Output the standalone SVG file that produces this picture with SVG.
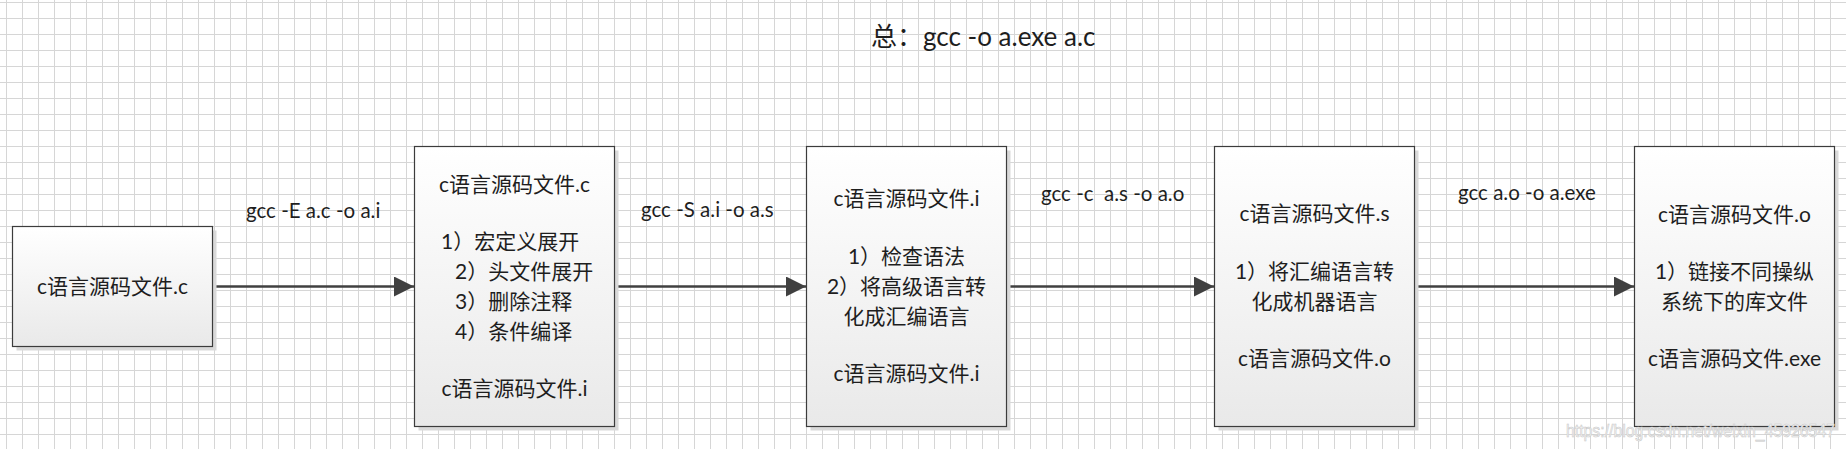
<svg xmlns="http://www.w3.org/2000/svg" width="1846" height="449" viewBox="0 0 1846 449">
<style>
text{font-family:Lato,"Noto Sans CJK SC",sans-serif;fill:#1e1e1e}
.t{font-size:21px;text-anchor:middle}
.ts{font-size:21px}
.lbl{font-size:20.5px}
.box{fill:url(#g);stroke:#3c3c3c;stroke-width:1.2}
.sh{fill:#d9d9d9}
.conn{stroke:#404040;stroke-width:2.6;fill:none;marker-end:url(#ah)}
</style>
<defs>
<pattern id="grid" x="6" y="2" width="16" height="16" patternUnits="userSpaceOnUse">
<path d="M0.5 0V16M0 0.5H16" stroke="#d6d6d6" stroke-width="1" fill="none"/>
</pattern>
<linearGradient id="g" x1="0" y1="0" x2="0" y2="1">
<stop offset="0" stop-color="#ffffff"/>
<stop offset="1" stop-color="#e9e9e9"/>
</linearGradient>
<marker id="ah" markerUnits="userSpaceOnUse" markerWidth="20" markerHeight="20" refX="20" refY="10" orient="auto">
<path d="M0 0L20 10L0 20z" fill="#404040"/>
</marker>
</defs>
<rect width="1846" height="449" fill="#ffffff"/>
<rect width="1846" height="449" fill="url(#grid)"/>

<text id="title" x="871" y="46" style="font-size:26px">总：gcc -o a.exe a.c</text>

<g id="connectors">
<line class="conn" x1="213" y1="286.5" x2="414" y2="286.5"/>
<line class="conn" x1="615" y1="286.5" x2="806" y2="286.5"/>
<line class="conn" x1="1007" y1="286.5" x2="1214" y2="286.5"/>
<line class="conn" x1="1415" y1="286.5" x2="1634" y2="286.5"/>
<text class="lbl" x="246" y="218">gcc -E a.c -o a.i</text>
<text class="lbl" x="641" y="217">gcc -S a.i -o a.s</text>
<text class="lbl" x="1041" y="201">gcc -c&#160; a.s -o a.o</text>
<text class="lbl" x="1458" y="200">gcc a.o -o a.exe</text>
</g>

<g id="node1">
<rect class="sh" x="16.5" y="230.5" width="200" height="120"/>
<rect class="box" x="12.5" y="226.5" width="200" height="120"/>
<text class="t" x="112.5" y="294">c语言源码文件.c</text>
</g>

<g id="node2">
<rect class="sh" x="418.5" y="150.5" width="200" height="280"/>
<rect class="box" x="414.5" y="146.5" width="200" height="280"/>
<text class="t" x="514.5" y="192">c语言源码文件.c</text>
<text class="ts" x="441" y="249">1）宏定义展开</text>
<text class="ts" x="455" y="279">2）头文件展开</text>
<text class="ts" x="455" y="309">3）删除注释</text>
<text class="ts" x="455" y="339">4）条件编译</text>
<text class="t" x="514.5" y="396">c语言源码文件.i</text>
</g>

<g id="node3">
<rect class="sh" x="810.5" y="150.5" width="200" height="280"/>
<rect class="box" x="806.5" y="146.5" width="200" height="280"/>
<text class="t" x="906.5" y="206">c语言源码文件.i</text>
<text class="t" x="906.5" y="264">1）检查语法</text>
<text class="t" x="906.5" y="294">2）将高级语言转</text>
<text class="t" x="906.5" y="324">化成汇编语言</text>
<text class="t" x="906.5" y="381">c语言源码文件.i</text>
</g>

<g id="node4">
<rect class="sh" x="1218.5" y="150.5" width="200" height="280"/>
<rect class="box" x="1214.5" y="146.5" width="200" height="280"/>
<text class="t" x="1314.5" y="221">c语言源码文件.s</text>
<text class="t" x="1314.5" y="279">1）将汇编语言转</text>
<text class="t" x="1314.5" y="309">化成机器语言</text>
<text class="t" x="1314.5" y="366">c语言源码文件.o</text>
</g>

<g id="node5">
<rect class="sh" x="1638.5" y="150.5" width="200" height="280"/>
<rect class="box" x="1634.5" y="146.5" width="200" height="280"/>
<text class="t" x="1734.5" y="222">c语言源码文件.o</text>
<text class="t" x="1734.5" y="279">1）链接不同操纵</text>
<text class="t" x="1734.5" y="309">系统下的库文件</text>
<text class="t" x="1734.5" y="366">c语言源码文件.exe</text>
</g>

<text id="watermark" x="1566" y="437" textLength="269" lengthAdjust="spacingAndGlyphs" style="font-family:'Liberation Sans',sans-serif;font-size:19px;fill:#f4f4f4;stroke:#c8c8c8;stroke-width:0.6">https://blog.csdn.net/weixin_45926547</text>
</svg>
